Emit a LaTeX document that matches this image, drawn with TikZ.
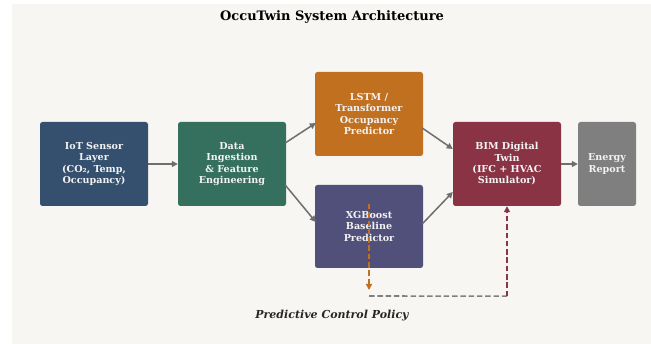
\documentclass[tikz,border=0pt]{standalone}
\usepackage{fontspec}
\setmainfont{DejaVu Serif}
\usetikzlibrary{arrows.meta,calc}

\definecolor{bgpaper}{HTML}{F7F6F2}
\definecolor{cIoT}{HTML}{34506E}
\definecolor{cData}{HTML}{356F5E}
\definecolor{cLstm}{HTML}{C1701F}
\definecolor{cXgb}{HTML}{51507A}
\definecolor{cBim}{HTML}{8A3345}
\definecolor{cEnergy}{HTML}{7F7F7F}
\definecolor{cArrow}{HTML}{6E6E6E}
\definecolor{cTxt}{HTML}{F2F2F2}

\tikzset{
  block/.style={rounded corners=2.5pt, minimum width=108pt, minimum height=84pt,
    inner sep=0pt, align=center, text=cTxt,
    font=\fontsize{9.6}{11.3}\selectfont\bfseries},
  flow/.style={draw=cArrow, line width=1.5pt,
    -{Stealth[length=6pt,width=6pt,inset=0pt]}},
  loopdash/.style={line width=1.6pt, dash pattern=on 5.5pt off 2.8pt},
}

\begin{document}
\begin{tikzpicture}[x=1pt,y=-1pt]
  \useasboundingbox (0,0) rectangle (651,344);
  \fill[bgpaper] (12,4) rectangle (651,344);

  \node[font=\fontsize{13}{15}\selectfont\bfseries] (title) at (332,17.5) {OccuTwin System Architecture};

  % processing blocks
  \node[block, fill=cIoT] (iot) at (94,164) {IoT Sensor\\Layer\\(CO₂, Temp,\\Occupancy)};
  \node[block, fill=cData] (data) at (232,164) {Data\\Ingestion\\\& Feature\\Engineering};
  \node[block, fill=cLstm] (lstm) at (369,114) {LSTM /\\Transformer\\Occupancy\\Predictor};
  \node[block, fill=cXgb, minimum height=83pt] (xgb) at (369,226.5) {XGBoost\\Baseline\\Predictor};
  \node[block, fill=cBim] (bim) at (507,164) {BIM Digital\\Twin\\(IFC + HVAC\\Simulator)};
  \node[block, fill=cEnergy, minimum width=58pt] (energy) at (607,164) {Energy\\Report};

  % data flow
  \draw[flow] (iot.east) -- (data.west);
  \draw[flow] ($(data.east)+(-1,-21)$) -- ($(lstm.west)+(1,9)$);
  \draw[flow] ($(data.east)+(-1,21)$) -- ($(xgb.west)+(1,-4.5)$);
  \draw[flow] ($(lstm.east)+(-1,14)$) -- ($(bim.west)+(0,-15)$);
  \draw[flow] ($(xgb.east)+(-1,-2.5)$) -- ($(bim.west)+(0,28)$);
  \draw[flow] (bim.east) -- (energy.west);

  % predictive control loop
  \coordinate (loopL) at (369,296);
  \coordinate (loopR) at ($(bim.south)+(0,90)$);
  \draw[loopdash, draw=cLstm, -{Stealth[length=6pt,width=6pt,inset=0pt]}]
    ($(xgb.center)+(0,-22.5)$) -- ($(loopL)+(0,-6)$);
  \draw[loopdash, draw=cEnergy] (loopL) -- (loopR);
  \draw[loopdash, draw=cBim, -{Stealth[length=6pt,width=6pt,inset=0pt]}]
    (loopR) -- (bim.south);

  \node[font=\fontsize{11}{13}\selectfont\bfseries\itshape, text=black!85] (policy) at (332,315.5) {Predictive Control Policy};
\end{tikzpicture}
\end{document}
